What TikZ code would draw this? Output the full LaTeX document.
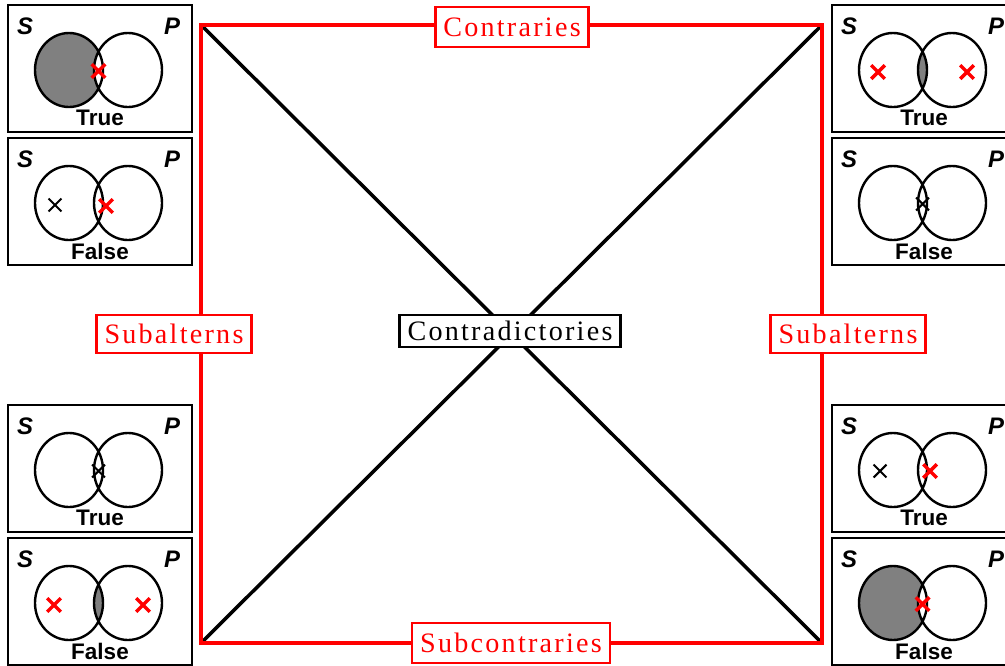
\documentclass[tikz,border=0pt]{standalone}
\usepackage{fontspec}
\setmainfont{Liberation Serif}
\setsansfont{Liberation Sans}
\newfontfamily\relfont[LetterSpace=8]{Liberation Serif}
\usepackage{tikz}
\usetikzlibrary{shapes.misc,positioning}

\begin{document}
\begin{tikzpicture}[
    x=0.025cm,
    y=-0.025cm,
    venn/.style={
		rectangle,
		draw=black,
		line width=2pt,
		minimum width=4.6cm,
		minimum height=3.175cm,
		fill=white
	},
	ring/.style={
		draw=black,
		line width=1.7pt
	},
	shade/.style={
		fill=black!50
	},
	term/.style={
		font=\sffamily\bfseries\itshape\fontsize{17}{17}\selectfont
	},
	truth/.style={
		font=\sffamily\bfseries\fontsize{16}{16}\selectfont
	},
	relation/.style={
		rectangle,
		draw=red,
		line width=1.8pt,
		text=red,
		fill=white,
		inner xsep=0.2cm,
		inner ysep=0pt,
		minimum height=1cm,
		font=\relfont\fontsize{20}{22}\selectfont
	},
	redx/.style={
		cross out,
		draw=red,
		line width=2.5pt,
		minimum size=0.25cm,
		inner sep=0pt
	},
	blackx/.style={
		cross out,
		draw=black,
		line width=1.5pt,
		minimum size=0.27cm,
		inner sep=0pt
	}
  ]

\useasboundingbox (0,0) rectangle (1005,665);

% // The square
\coordinate (tl) at (201,25);
\coordinate (tr) at (822,25);
\coordinate (br) at (822,643);
\coordinate (bl) at (201,643);

\draw [black, line width=2.5pt] (tl) -- (br);
\draw [black, line width=2.5pt] (tr) -- (bl);
\draw [red, line width=3.2pt] (tl) -- (tr) -- (br) -- (bl) -- cycle;

\node [relation] (contraries) at (512,27) {Contraries};
\node [relation] (subcontraries) at (511,643) {Subcontraries};
\node [relation, minimum height=0.95cm] (subalternsL) at (174,334) {Subalterns};
\node [relation, minimum height=0.95cm] (subalternsR) at (848,334) {Subalterns};
\node [relation, draw=black, text=black, minimum height=0.8cm] (contradictories) at (510,331) {Contradictories};

% // A true
\begin{scope}[shift={(8,5)}]
 \node [venn] (aTrue) at (92,63.5) {};
 \fill [shade] (61,65) ellipse [x radius=34, y radius=37];
 \fill [white] (120,65) ellipse [x radius=34, y radius=37];
 \draw [ring] (61,65) ellipse [x radius=34, y radius=37] (120,65) ellipse [x radius=34, y radius=37];
 \node [redx] (aTrueX) at (90.5,66) {};
 \node [term] (aTrueS) at (17,21) {S};
 \node [term] (aTrueP) at (164,21) {P};
 \node [truth] (aTrueT) at (92,113) {True};
\end{scope}

% // A false
\begin{scope}[shift={(8,138)}]
 \node [venn] (aFalse) at (92,63.5) {};
 \draw [ring] (61,65) ellipse [x radius=34, y radius=37] (120,65) ellipse [x radius=34, y radius=37];
 \node [blackx] (aFalseX1) at (47,67) {};
 \node [redx] (aFalseX2) at (98,68) {};
 \node [term] (aFalseS) at (17,21) {S};
 \node [term] (aFalseP) at (164,21) {P};
 \node [truth] (aFalseT) at (92,113) {False};
\end{scope}

% // E true
\begin{scope}[shift={(832,5)}]
 \node [venn] (eTrue) at (92,63.5) {};
 \begin{scope}
  \clip (61,65) ellipse [x radius=34, y radius=37];
  \fill [shade] (120,65) ellipse [x radius=34, y radius=37];
 \end{scope}
 \draw [ring] (61,65) ellipse [x radius=34, y radius=37] (120,65) ellipse [x radius=34, y radius=37];
 \node [redx] (eTrueX1) at (46,67) {};
 \node [redx] (eTrueX2) at (135,67) {};
 \node [term] (eTrueS) at (17,21) {S};
 \node [term] (eTrueP) at (164,21) {P};
 \node [truth] (eTrueT) at (92,113) {True};
\end{scope}

% // E false
\begin{scope}[shift={(832,138)}]
 \node [venn] (eFalse) at (92,63.5) {};
 \draw [ring] (61,65) ellipse [x radius=34, y radius=37] (120,65) ellipse [x radius=34, y radius=37];
 \node [blackx] (eFalseX) at (90.5,66) {};
 \node [term] (eFalseS) at (17,21) {S};
 \node [term] (eFalseP) at (164,21) {P};
 \node [truth] (eFalseT) at (92,113) {False};
\end{scope}

% // I true
\begin{scope}[shift={(8,405)}]
 \node [venn] (iTrue) at (92,63.5) {};
 \draw [ring] (61,65) ellipse [x radius=34, y radius=37] (120,65) ellipse [x radius=34, y radius=37];
 \node [blackx] (iTrueX) at (90.5,66) {};
 \node [term] (iTrueS) at (17,21) {S};
 \node [term] (iTrueP) at (164,21) {P};
 \node [truth] (iTrueT) at (92,113) {True};
\end{scope}

% // I false
\begin{scope}[shift={(8,538)}]
 \node [venn] (iFalse) at (92,63.5) {};
 \begin{scope}
  \clip (61,65) ellipse [x radius=34, y radius=37];
  \fill [shade] (120,65) ellipse [x radius=34, y radius=37];
 \end{scope}
 \draw [ring] (61,65) ellipse [x radius=34, y radius=37] (120,65) ellipse [x radius=34, y radius=37];
 \node [redx] (iFalseX1) at (46,67) {};
 \node [redx] (iFalseX2) at (135,67) {};
 \node [term] (iFalseS) at (17,21) {S};
 \node [term] (iFalseP) at (164,21) {P};
 \node [truth] (iFalseT) at (92,113) {False};
\end{scope}

% // O true
\begin{scope}[shift={(832,405)}]
 \node [venn] (oTrue) at (92,63.5) {};
 \draw [ring] (61,65) ellipse [x radius=34, y radius=37] (120,65) ellipse [x radius=34, y radius=37];
 \node [blackx] (oTrueX1) at (48,66) {};
 \node [redx] (oTrueX2) at (98,66) {};
 \node [term] (oTrueS) at (17,21) {S};
 \node [term] (oTrueP) at (164,21) {P};
 \node [truth] (oTrueT) at (92,113) {True};
\end{scope}

% // O false
\begin{scope}[shift={(832,538)}]
 \node [venn] (oFalse) at (92,63.5) {};
 \fill [shade] (61,65) ellipse [x radius=34, y radius=37];
 \fill [white] (120,65) ellipse [x radius=34, y radius=37];
 \draw [ring] (61,65) ellipse [x radius=34, y radius=37] (120,65) ellipse [x radius=34, y radius=37];
 \node [redx] (oFalseX) at (90.5,66) {};
 \node [term] (oFalseS) at (17,21) {S};
 \node [term] (oFalseP) at (164,21) {P};
 \node [truth] (oFalseT) at (92,113) {False};
\end{scope}

\end{tikzpicture}
\end{document}
